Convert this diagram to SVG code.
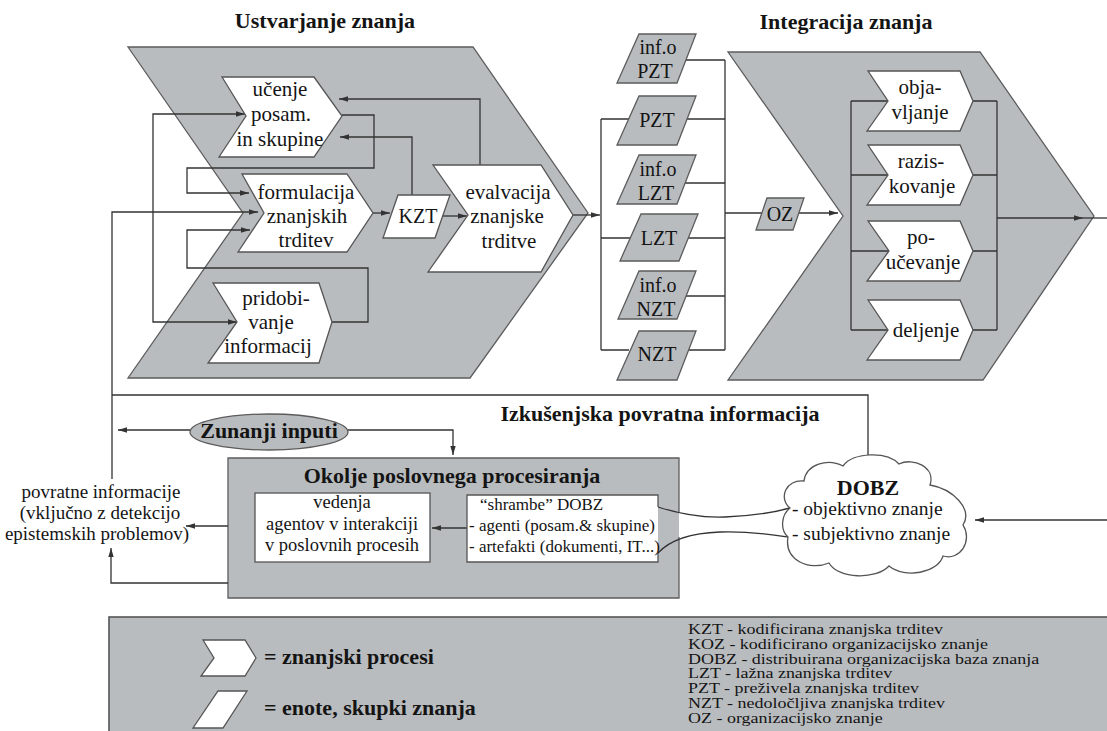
<svg xmlns="http://www.w3.org/2000/svg" width="1107" height="731" viewBox="0 0 1107 731">
  <defs>
    <style>
      .g { fill: #b9bcbf; stroke: #5c5c5c; stroke-width: 1.3; }
      .w { fill: #ffffff; stroke: #555555; stroke-width: 1.3; }
      .ln { fill: none; stroke: #333333; stroke-width: 1.3; }
      .arr { marker-end: url(#ah); }
      .t { font-family: "Liberation Serif", "Times New Roman", serif; fill: #141414; }
      .c { text-anchor: middle; }
      .b { font-weight: bold; }
      .p { font-size: 21px; }
      .u { font-size: 20px; }
      .h { font-size: 22px; font-weight: bold; }
    </style>
    <marker id="ah" viewBox="0 0 10 6" refX="10" refY="3" markerWidth="9" markerHeight="5.4" orient="auto" markerUnits="userSpaceOnUse">
      <path d="M0,0 L10,3 L0,6 Z" fill="#333333"/>
    </marker>
    <marker id="ahs" viewBox="0 0 10 6" refX="10" refY="3" markerWidth="9" markerHeight="5.4" orient="auto-start-reverse" markerUnits="userSpaceOnUse">
      <path d="M0,0 L10,3 L0,6 Z" fill="#333333"/>
    </marker>
  </defs>

  <rect width="1107" height="731" fill="#ffffff"/>

  <!-- section titles -->
  <text class="t h c" x="325" y="28">Ustvarjanje znanja</text>
  <text class="t h c" x="846" y="29">Integracija znanja</text>

  <!-- large process frames -->
  <g id="creation-frame">
    <path class="g" d="M128,47 L473,47 L588,213 L470,378 L128,378 L243,213 Z"/>
  </g>
  <g id="integration-frame">
    <path class="g" d="M728,52 L980,52 L1094,216 L983,380 L728,380 L843,216 Z"/>
  </g>

  <!-- business processing environment (drawn under the connectors) -->
  <g id="okolje">
    <rect x="228" y="458" width="451" height="140" fill="#b9bcbf"/>
    <path d="M679,512 L679,458 L228,458 L228,598 L679,598 L679,537" fill="none" stroke="#5c5c5c" stroke-width="1.3"/>
    <text class="t h c" x="452" y="483">Okolje poslovnega procesiranja</text>
  </g>

  <!-- connectors -->
  <g id="connectors">
    <!-- knowledge creation loop -->
    <path class="ln arr" d="M480,165 L480,99 L339,99"/>
    <path class="ln arr" d="M412,195 L412,137 L340,137"/>
    <path class="ln arr" d="M342,115 L374,115 L374,168 L187,168 L187,193 L249,193"/>
    <path class="ln" marker-start="url(#ahs)" marker-end="url(#ah)" d="M245,114 L153,114 L153,322 L237,322"/>
    <path class="ln arr" d="M332,322 L368,322 L368,268 L187,268 L187,230 L250,230"/>
    <path class="ln arr" d="M373,213 L390,213"/>
    <path class="ln arr" d="M441,216 L467,216"/>
    <path class="ln arr" d="M573,215 L600,215"/>
    <!-- evaluation outcomes -->
    <path class="ln" d="M601,119 L601,350"/>
    <path class="ln" d="M601,119 L629,119 M601,238 L630,238 M601,350 L629,350"/>
    <path class="ln" d="M725,60 L725,350"/>
    <path class="ln" d="M685,60 L725,60 M687,119 L725,119 M685,183 L725,183 M688,238 L725,238 M686,296 L725,296 M689,350 L725,350"/>
    <path class="ln" d="M725,213 L762,213"/>
    <path class="ln arr" d="M798,213 L838,213"/>
    <!-- knowledge integration -->
    <path class="ln" d="M851,101 L851,330 M851,101 L888,101 M851,175 L888,175 M851,251 L889,251 M851,330 L888,330"/>
    <path class="ln" d="M997,101 L997,330 M973,101 L997,101 M973,175 L997,175 M973,251 L997,251 M973,330 L997,330"/>
    <path class="ln arr" d="M997,218 L1083,218"/>
    <path class="ln" d="M1083,218 L1107,218"/>
    <!-- experiential feedback -->
    <path class="ln arr" d="M112,479 L112,212 L258,212"/>
    <path class="ln" d="M112,395 L868,395 L868,457"/>
    <path class="ln arr" d="M190,430 L118,430"/>
    <path class="ln arr" d="M348,430 L453,430 L453,455"/>
    <path class="ln arr" d="M228,526 L186,526"/>
    <path class="ln arr" d="M228,583 L111,583 L111,548"/>
    <path class="ln arr" d="M467,528 L432,528"/>
    <path class="ln arr" d="M1107,520 L975,520"/>
    <!-- store to DOBZ tube -->
    <path class="ln" d="M658,507 C680,514 700,518 725,517 C755,516 775,512 790,508"/>
    <path class="ln" d="M658,553 C670,540 690,533 720,532 C750,531 775,535 788,537"/>
  </g>

  <!-- knowledge creation processes -->
  <g id="ucenje">
    <path class="w" d="M222,77 L314,77 L342,116 L314,157 L219,157 L246,116 Z"/>
    <text class="t p c" x="280" y="96">učenje</text>
    <text class="t p c" x="281" y="121">posam.</text>
    <text class="t p c" x="280" y="146">in skupine</text>
  </g>
  <g id="formulacija">
    <path class="w" d="M242,174 L347,174 L373,213 L347,252 L238,252 L264,213 Z"/>
    <text class="t p c" x="306" y="199">formulacija</text>
    <text class="t p c" x="307" y="223">znanjskih</text>
    <text class="t p c" x="306" y="247">trditev</text>
  </g>
  <g id="pridobivanje">
    <path class="w" d="M213,283 L319,283 L332,322 L319,363 L208,363 L237,322 Z"/>
    <text class="t p c" x="276" y="305">pridobi-</text>
    <text class="t p c" x="271" y="329">vanje</text>
    <text class="t p c" x="268" y="353">informacij</text>
  </g>
  <g id="kzt">
    <path class="w" d="M398,195 L450,195 L435,238 L383,238 Z"/>
    <text class="t u c" x="418" y="223">KZT</text>
  </g>
  <g id="evalvacija">
    <path class="w" d="M433,165 L541,165 L573,215 L541,272 L428,272 L468,215 Z"/>
    <text class="t p c" x="508" y="199">evalvacija</text>
    <text class="t p c" x="507" y="223">znanjske</text>
    <text class="t p c" x="509" y="248">trditve</text>
  </g>

  <!-- evaluation outcome units -->
  <g id="inf-pzt">
    <path class="g" d="M639,34 L696,34 L677,83 L617,83 Z"/>
    <text class="t u c" x="658" y="54">inf.o</text>
    <text class="t u c" x="655" y="78">PZT</text>
  </g>
  <g id="pzt">
    <path class="g" d="M639,96 L696,96 L677,145 L617,145 Z"/>
    <text class="t u c" x="657" y="127">PZT</text>
  </g>
  <g id="inf-lzt">
    <path class="g" d="M639,155 L696,155 L677,204 L617,204 Z"/>
    <text class="t u c" x="658" y="176">inf.o</text>
    <text class="t u c" x="656" y="200">LZT</text>
  </g>
  <g id="lzt">
    <path class="g" d="M641,214 L698,214 L679,261 L620,261 Z"/>
    <text class="t u c" x="659" y="245">LZT</text>
  </g>
  <g id="inf-nzt">
    <path class="g" d="M639,271 L696,271 L677,319 L618,319 Z"/>
    <text class="t u c" x="658" y="292">inf.o</text>
    <text class="t u c" x="656" y="316">NZT</text>
  </g>
  <g id="nzt">
    <path class="g" d="M639,331 L696,331 L677,380 L617,380 Z"/>
    <text class="t u c" x="657" y="361">NZT</text>
  </g>
  <g id="oz">
    <path class="g" d="M767,198 L804,198 L793,230 L756,230 Z"/>
    <text class="t u c" x="780" y="221">OZ</text>
  </g>

  <!-- knowledge integration processes -->
  <g id="objavljanje">
    <path class="w" d="M868,71 L960,71 L973,101 L960,131 L867,131 L888,101 Z"/>
    <text class="t p c" x="920" y="94">obja-</text>
    <text class="t p c" x="920" y="119">vljanje</text>
  </g>
  <g id="raziskovanje">
    <path class="w" d="M868,145 L960,145 L973,175 L960,205 L867,205 L888,175 Z"/>
    <text class="t p c" x="921" y="168">razis-</text>
    <text class="t p c" x="922" y="193">kovanje</text>
  </g>
  <g id="poucevanje">
    <path class="w" d="M868,221 L960,221 L973,251 L960,281 L867,281 L889,251 Z"/>
    <text class="t p c" x="921" y="244">po-</text>
    <text class="t p c" x="923" y="269">učevanje</text>
  </g>
  <g id="deljenje">
    <path class="w" d="M868,300 L960,300 L973,330 L960,360 L867,360 L888,330 Z"/>
    <text class="t p c" x="926" y="337">deljenje</text>
  </g>

  <!-- feedback section -->
  <text class="t h c" x="660" y="421">Izkušenjska povratna informacija</text>

  <g id="zunanji-inputi">
    <ellipse class="g" cx="269" cy="432" rx="79" ry="18"/>
    <text class="t h c" x="269" y="438">Zunanji inputi</text>
  </g>

  <g id="povratne-informacije">
    <text class="t c" font-size="19" x="101" y="498">povratne informacije</text>
    <text class="t c" font-size="19" x="100" y="519">(vključno z detekcijo</text>
    <text class="t c" font-size="19" x="97" y="540">epistemskih problemov)</text>
  </g>

  <g id="vedenja">
    <rect class="w" x="255" y="493" width="175" height="69"/>
    <text class="t c" font-size="18.5" x="342" y="508">vedenja</text>
    <text class="t c" font-size="18.5" x="342" y="530">agentov v interakciji</text>
    <text class="t c" font-size="18.5" x="342" y="551">v poslovnih procesih</text>
  </g>
  <g id="shrambe">
    <path d="M658,507 L658,495 L467,495 L467,562 L658,562 L658,553 Z" fill="#ffffff"/>
    <path d="M658,507 L658,495 L467,495 L467,562 L658,562 L658,553" fill="none" stroke="#555555" stroke-width="1.3"/>
    <text class="t" font-size="17" x="480" y="510">“shrambe” DOBZ</text>
    <text class="t" font-size="17" x="469" y="531">- agenti (posam.&amp; skupine)</text>
    <text class="t" font-size="17" x="469" y="552">- artefakti (dokumenti, IT...)</text>
  </g>

  <g id="dobz">
    <path class="w" d="M790,508 C778,498 786,479 804,481 C806,464 828,458 843,466 C853,452 887,451 899,464 C913,457 936,467 930,485 C953,489 973,509 963,525 C973,541 960,561 943,556 C938,573 905,579 889,566 C876,580 838,579 829,563 C810,571 784,561 788,537 C780,530 781,515 790,508 Z"/>
    <text class="t h c" x="868" y="495">DOBZ</text>
    <text class="t" font-size="19.5" x="792" y="515">- objektivno znanje</text>
    <text class="t" font-size="19.5" x="792" y="540">- subjektivno znanje</text>
  </g>

  <!-- legend -->
  <g id="legend">
    <rect x="109" y="617" width="1010" height="130" fill="#b9bcbf" stroke="#555555" stroke-width="1.6"/>
    <path class="w" d="M203,640 L245,640 L256,658 L245,676 L201,676 L214,658 Z"/>
    <text class="t h" x="264" y="664">= znanjski procesi</text>
    <path class="w" d="M218,691 L247,691 L223,728 L193,728 Z"/>
    <text class="t h" x="264" y="715">= enote, skupki znanja</text>
    <g class="t" font-size="15.5" transform="translate(688,0) scale(1.16,1)">
      <text x="0" y="634">KZT - kodificirana znanjska trditev</text>
      <text x="0" y="649">KOZ - kodificirano organizacijsko znanje</text>
      <text x="0" y="664">DOBZ - distribuirana organizacijska baza znanja</text>
      <text x="0" y="678">LZT - lažna znanjska trditev</text>
      <text x="0" y="693">PZT - preživela znanjska trditev</text>
      <text x="0" y="708">NZT - nedoločljiva znanjska trditev</text>
      <text x="0" y="723">OZ - organizacijsko znanje</text>
    </g>
  </g>
</svg>
